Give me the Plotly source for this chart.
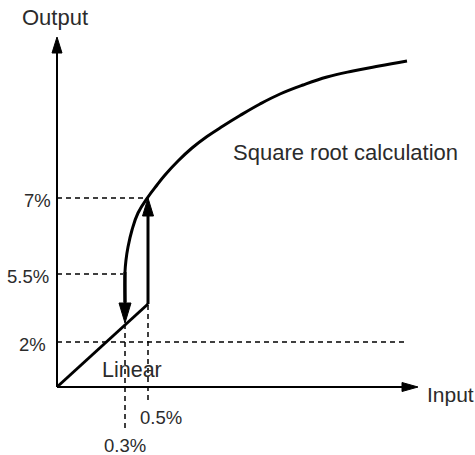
import plotly.graph_objects as go

# Schematic units: 1 unit on each axis equals one screen pixel, origin at the axes corner.
x_axis_end = 361
y_axis_end = 350

# Linear region (low input) and the square-root calculation curve
linear_x = [0, 91]
linear_y = [0, 83]

curve_x = [68, 68, 69, 71, 75, 81, 91, 100, 108, 121, 135, 150, 166, 183, 203, 223, 246,
           270, 296, 322, 350]
curve_y = [85, 115, 127, 140, 157, 174, 190, 202, 212, 226, 239, 250.5, 261, 271.5, 283,
           293, 302, 310, 316, 321, 326]

# Switching points: down at 0.3% input, up at 0.5% input
down_x = 68
down_top, down_tip = 115, 64
up_x = 91
up_bottom, up_tip = 83, 189

# Output reference levels
y_levels = [45, 113, 189]
y_labels = ["2%", "5.5%", "7%"]
y_label_right = [-9, -6, -4]
y_level_ends = [348, 66, 90]

# Input reference levels
x_levels = [68, 91]
x_labels = ["0.3%", "0.5%"]
x_level_bottoms = [-41, -13]
x_level_tops = [64, 83]

FONT = "Liberation Sans, Arial, Helvetica, sans-serif"
TEXT = "#2b2b2b"


def head(tx, ty, direction, length, width):
    """Filled triangular arrowhead with its tip at (tx, ty)."""
    h = width / 2
    if direction == "up":
        return [tx, tx - h, tx + h, tx], [ty, ty - length, ty - length, ty]
    if direction == "down":
        return [tx, tx - h, tx + h, tx], [ty, ty + length, ty + length, ty]
    return [tx, tx - length, tx - length, tx], [ty, ty - h, ty + h, ty]


fig = go.Figure()

# Dashed reference lines
for lvl, end in zip(y_levels, y_level_ends):
    fig.add_trace(go.Scatter(x=[0, end], y=[lvl, lvl], mode="lines",
                             line=dict(color="black", width=1.5, dash="5px,4px")))
for xl, bot, top in zip(x_levels, x_level_bottoms, x_level_tops):
    fig.add_trace(go.Scatter(x=[xl, xl], y=[bot, top], mode="lines",
                             line=dict(color="black", width=1.5, dash="5px,4px")))

# Axes with arrowheads
fig.add_trace(go.Scatter(x=[0, x_axis_end - 14], y=[0, 0], mode="lines",
                         line=dict(color="black", width=2)))
fig.add_trace(go.Scatter(x=[0, 0], y=[0, y_axis_end - 14], mode="lines",
                         line=dict(color="black", width=2)))

# Linear section and square-root curve
fig.add_trace(go.Scatter(x=linear_x, y=linear_y, mode="lines",
                         line=dict(color="black", width=3)))
fig.add_trace(go.Scatter(x=curve_x, y=curve_y, mode="lines",
                         line=dict(color="black", width=3, shape="spline", smoothing=1.2)))

# Switching arrows
fig.add_trace(go.Scatter(x=[down_x, down_x], y=[down_top, down_tip + 18], mode="lines",
                         line=dict(color="black", width=3)))
fig.add_trace(go.Scatter(x=[up_x, up_x], y=[up_bottom, up_tip - 16], mode="lines",
                         line=dict(color="black", width=3)))

heads = [
    head(x_axis_end, 0, "right", 16, 9),
    head(0, y_axis_end, "up", 16, 10),
    head(down_x, down_tip, "down", 20, 12),
    head(up_x, up_tip, "up", 18, 11),
]
for hx, hy in heads:
    fig.add_trace(go.Scatter(x=hx, y=hy, mode="lines", fill="toself",
                             fillcolor="black", line=dict(color="black", width=1)))

annotations = []
for lvl, lab, xr in zip(y_levels, y_labels, y_label_right):
    annotations.append(dict(x=xr, y=lvl - 2, text=lab, xanchor="right", yanchor="middle",
                            font=dict(size=18.5)))
annotations.append(dict(x=104, y=-30, text=x_labels[1], xanchor="center", yanchor="middle",
                        font=dict(size=18.5)))
annotations.append(dict(x=68, y=-58, text=x_labels[0], xanchor="center", yanchor="middle",
                        font=dict(size=18.5)))
annotations.append(dict(x=-2, y=370, text="Output", xanchor="center", yanchor="middle",
                        font=dict(size=22)))
annotations.append(dict(x=368, y=-7, text="Input", xanchor="left", yanchor="middle",
                        font=dict(size=21)))
annotations.append(dict(x=75, y=17, text="Linear", xanchor="center", yanchor="middle",
                        font=dict(size=21.5)))
annotations.append(dict(x=288, y=235, text="Square root calculation", xanchor="center",
                        yanchor="middle", font=dict(size=22)))
for a in annotations:
    a.update(showarrow=False, xref="x", yref="y")
    a["font"].update(family=FONT, color=TEXT)

fig.update_layout(
    width=475, height=455,
    margin=dict(l=0, r=0, t=0, b=0),
    paper_bgcolor="white", plot_bgcolor="white",
    showlegend=False,
    xaxis=dict(visible=False, range=[-57, 418], fixedrange=True),
    yaxis=dict(visible=False, range=[-68, 387], fixedrange=True),
    annotations=annotations,
)

fig.write_html("out.html")
